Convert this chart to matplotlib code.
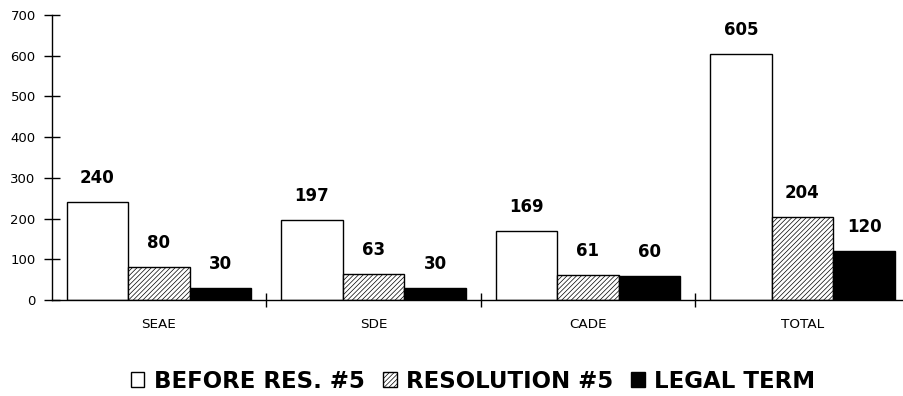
import matplotlib
matplotlib.use("Agg")
import matplotlib.pyplot as plt
import numpy as np

categories = ["SEAE", "SDE", "CADE", "TOTAL"]
before_res5 = [240, 197, 169, 605]
resolution5 = [80, 63, 61, 204]
legal_term = [30, 30, 60, 120]
series_names = ["BEFORE RES. #5", "RESOLUTION #5", "LEGAL TERM"]

plt.rcParams['font.family'] = ['DejaVu Sans']
plt.rcParams['hatch.linewidth'] = 0.5

fig = plt.figure(figsize=(9.04, 3.96), dpi=100)
ax = fig.add_axes([51.7/904, 1-300/396, 858/904, 285/396])

x = np.arange(len(categories))
w = 0.287
styles = [dict(facecolor="white", edgecolor="black", hatch=None),
          dict(facecolor="white", edgecolor="black", hatch="///////"),
          dict(facecolor="black", edgecolor="black", hatch=None)]
handles = []
for i, (vals, st) in enumerate(zip([before_res5, resolution5, legal_term], styles)):
    bars = ax.bar(x + (i - 1) * w, vals, w, linewidth=1.0, label=series_names[i], **st)
    handles.append(bars)
    for xi, v in zip(x + (i - 1) * w, vals):
        ax.annotate(str(v), (xi, v), xytext=(0, 13.7), textcoords="offset points",
                    ha="center", va="baseline", fontsize=12, fontweight="bold")

ax.set_xlim(-0.5, 3.5)
ax.set_ylim(0, 700)
ax.set_yticks(range(0, 701, 100))
ax.tick_params(axis="y", direction="inout", length=12, width=1, labelsize=9.5, pad=5.5)
ax.set_xticks(x)
ax.set_xticklabels(categories, fontsize=9.7)
ax.tick_params(axis="x", length=0, pad=13)
ax.set_xticks(np.arange(0.5, 3.5, 1), minor=True)
ax.tick_params(axis="x", which="minor", direction="inout", length=10, width=1)
for s in ["top", "right"]:
    ax.spines[s].set_visible(False)
ax.spines["left"].set_linewidth(1)
ax.spines["bottom"].set_linewidth(1)

fig.legend(handles, series_names, loc="center", bbox_to_anchor=(473/904, 1-381/396), ncol=3,
           frameon=False, prop=dict(size=16.5, weight="bold"), handlelength=0.6, handleheight=0.6,
           handletextpad=0.4, columnspacing=0.8, borderpad=0.1)

fig.savefig("out.png", dpi=100)
